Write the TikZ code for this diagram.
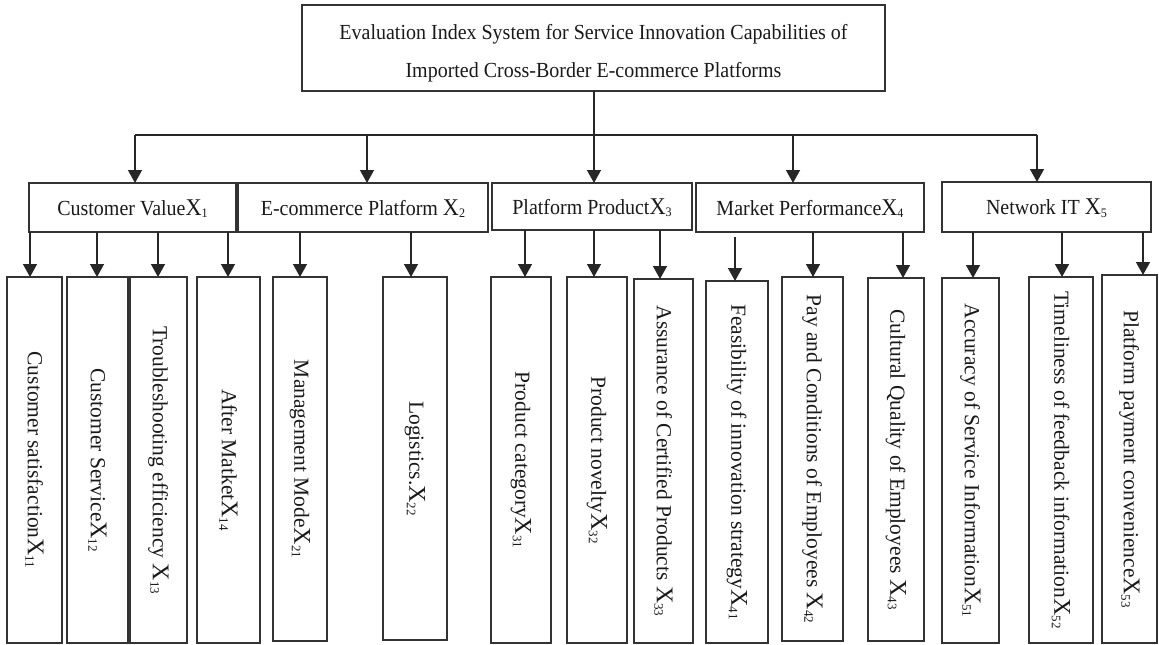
\documentclass[tikz,border=0pt]{standalone}
\usepackage{fontspec}
\setmainfont{Liberation Serif}
\newfontfamily\hfont{Liberation Serif}[FakeStretch=0.93]
\usetikzlibrary{arrows.meta}
\newcommand\myX[1]{{\fontsize{24}{24}\selectfont X}\raisebox{-2.5pt}{\fontsize{13}{13}\selectfont #1}}
\newcommand\rt[1]{\rotatebox{-90}{#1}}
\begin{document}
\begin{tikzpicture}[x=1pt,y=-1pt,line width=1.4pt,
  box/.style={draw=black!80,inner sep=0pt,outer sep=0pt,text=black!90},
  arr/.style={draw=black!85,-{Triangle[width=14pt,length=13pt]}},
  line/.style={draw=black!85},
  toptext/.style={box,align=center,font=\hfont\fontsize{21.5}{38}\selectfont},
  lvl/.style={box,text depth=0pt,font=\hfont\fontsize{21.5}{24}\selectfont},
  leaf/.style={box,font=\fontsize{21.5}{24}\selectfont}]
\useasboundingbox (0,0) rectangle (1159,645);
% top
\node[toptext,minimum width=583pt,minimum height=86pt] (top) at (593.5,48)
  {\rule{0pt}{25pt}Evaluation Index System for Service Innovation Capabilities of\\Imported Cross-Border E-commerce Platforms};
% level 2
\node[lvl,minimum width=207pt,minimum height=49pt] (cv) at (132.5,207.5) {Customer Value\myX{1}};
\node[lvl,minimum width=250pt,minimum height=49pt] (ecp) at (363,207.5) {E-commerce Platform \myX{2}};
\node[lvl,minimum width=200pt,minimum height=47pt] (pp) at (592,206.5) {Platform Product\myX{3}};
\node[lvl,minimum width=228pt,minimum height=49pt] (mp) at (810,207.5) {Market Performance\myX{4}};
\node[lvl,minimum width=209pt,minimum height=50pt] (nit) at (1046.5,207) {Network IT \myX{5}};
% level 3
\node[leaf,minimum width=55pt,minimum height=366pt] (c11) at (34.5,460) {\rt{Customer satisfaction\myX{11}}};
\node[leaf,minimum width=61pt,minimum height=366pt] (c12) at (97.5,460) {\rt{Customer Service\myX{12}}};
\node[leaf,minimum width=57pt,minimum height=366pt] (c13) at (158.5,460) {\rt{Troubleshooting efficiency \myX{13}}};
\node[leaf,minimum width=63pt,minimum height=366pt] (c14) at (228.5,460) {\rt{After Matket\myX{14}}};
\node[leaf,minimum width=54pt,minimum height=364pt] (c21) at (300,459) {\rt{Management Mode\myX{21}}};
\node[leaf,minimum width=64pt,minimum height=363pt] (c22) at (415,458.5) {\rt{Logistics.\myX{22}}};
\node[leaf,minimum width=60pt,minimum height=366pt] (c31) at (521,460) {\rt{Product category\myX{31}}};
\node[leaf,minimum width=60pt,minimum height=366pt] (c32) at (597,460) {\rt{Product novelty\myX{32}}};
\node[leaf,minimum width=59pt,minimum height=364pt] (c33) at (663.5,461) {\rt{Assurance of Certified Products \myX{33}}};
\node[leaf,minimum width=62pt,minimum height=362pt] (c41) at (737,462) {\rt{Feasibility of innovation strategy\myX{41}}};
\node[leaf,minimum width=61pt,minimum height=364pt] (c42) at (812.5,459) {\rt{Pay and Conditions of Employees \myX{42}}};
\node[leaf,minimum width=56pt,minimum height=363pt] (c43) at (896,459.5) {\rt{Cultural Quality of Employees \myX{43}}};
\node[leaf,minimum width=57pt,minimum height=365pt] (c51) at (970.5,460.5) {\rt{Accuracy of Service Information\myX{51}}};
\node[leaf,minimum width=64pt,minimum height=366pt] (c52) at (1061,460) {\rt{Timeliness of feedback information\myX{52}}};
\node[leaf,minimum width=55pt,minimum height=368pt] (c53) at (1129.5,459) {\rt{Platform payment convenience\myX{53}}};
% level 1 connectors
\coordinate (h1) at (135,135);
\coordinate (h2) at (367,135);
\coordinate (h3) at (594,135);
\coordinate (h4) at (793,135);
\coordinate (h5) at (1037,135);
\draw[line] (top.south -| h3) -- (h3);
\draw[line] (h1) -- (h5);
\draw[arr] (h1) -- (h1 |- cv.north);
\draw[arr] (h2) -- (h2 |- ecp.north);
\draw[arr] (h3) -- (h3 |- pp.north);
\draw[arr] (h4) -- (h4 |- mp.north);
\draw[arr] (h5) -- (h5 |- nit.north);
% level 2 connectors
\path ([xshift=-4.5pt]c11.north) coordinate (a11)
      ([xshift=-0.5pt]c12.north) coordinate (a12)
      ([xshift=-0.5pt]c13.north) coordinate (a13)
      ([xshift=-0.5pt]c14.north) coordinate (a14)
      (c21.north) coordinate (a21)
      ([xshift=-4pt]c22.north) coordinate (a22)
      ([xshift=4pt]c31.north) coordinate (a31)
      ([xshift=-3pt]c32.north) coordinate (a32)
      ([xshift=-3.5pt]c33.north) coordinate (a33)
      ([xshift=-2pt]c41.north) coordinate (a41)
      ([xshift=0.5pt]c42.north) coordinate (a42)
      ([xshift=7pt]c43.north) coordinate (a43)
      ([xshift=2.5pt]c51.north) coordinate (a51)
      ([xshift=1pt]c52.north) coordinate (a52)
      ([xshift=13.5pt]c53.north) coordinate (a53);
\foreach \p/\c in {cv/a11,cv/a12,cv/a13,cv/a14,ecp/a21,ecp/a22,pp/a31,pp/a32,pp/a33,mp/a42,mp/a43,nit/a51,nit/a52,nit/a53}
  \draw[arr] (\c |- \p.south) -- (\c);
\draw[arr,shorten <=5pt] (a41 |- mp.south) -- (a41);
\end{tikzpicture}
\end{document}
